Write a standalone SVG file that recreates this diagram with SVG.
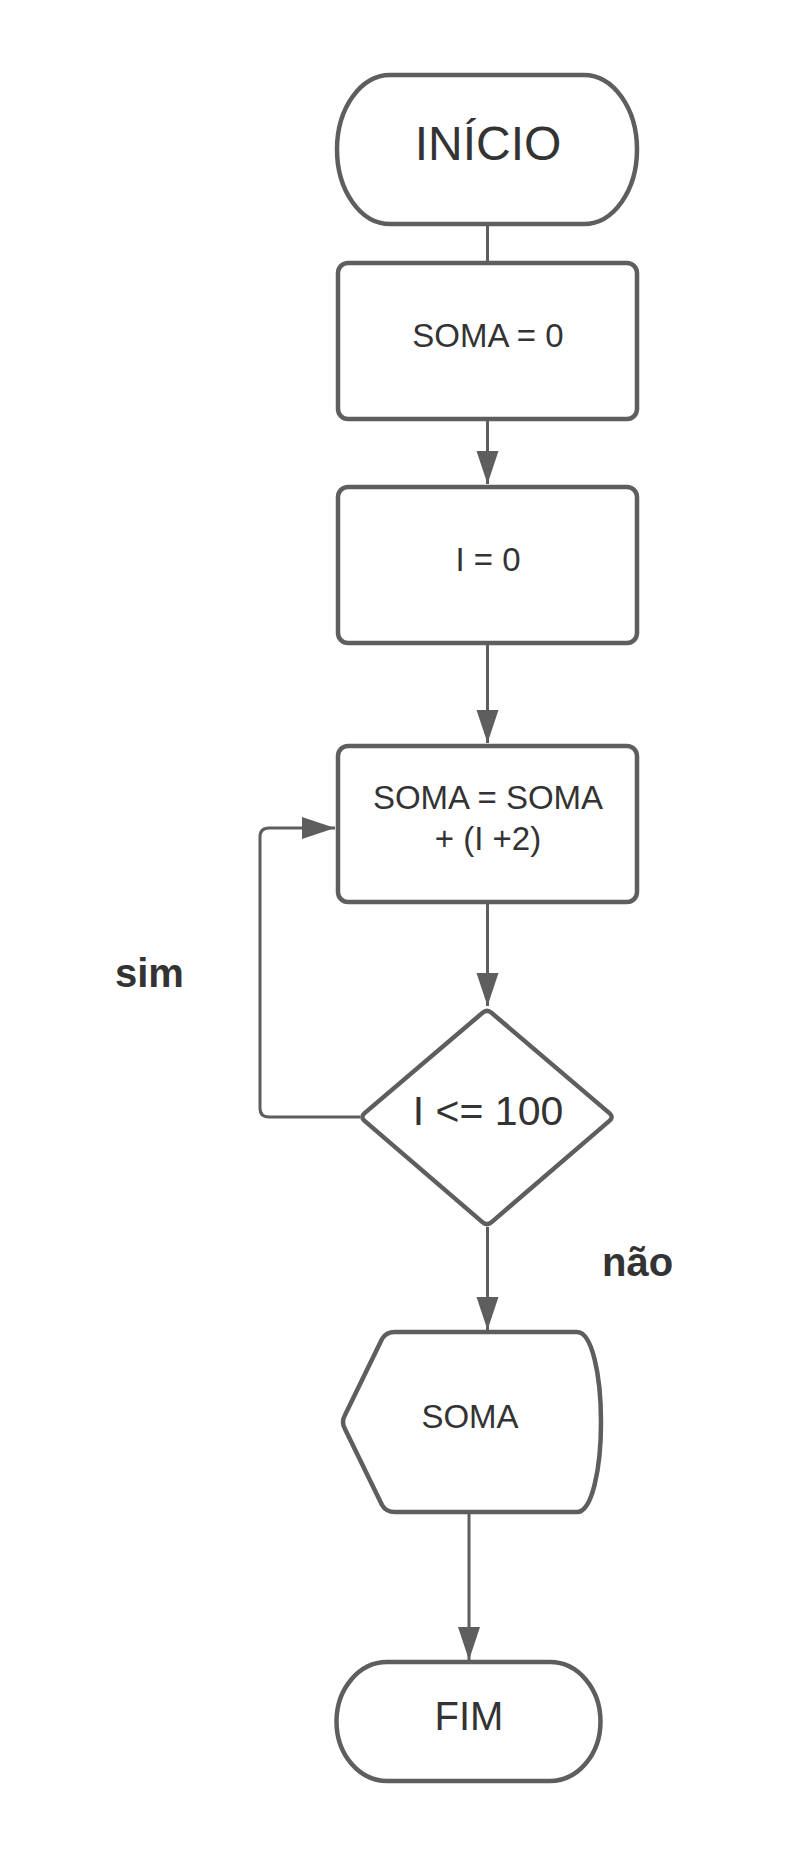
<svg xmlns="http://www.w3.org/2000/svg" width="788" height="1858" viewBox="0 0 788 1858">
<style>
.shape{fill:#ffffff;stroke:#5e5e5e;stroke-width:4.5;stroke-linejoin:round}
.conn{fill:none;stroke:#5e5e5e;stroke-width:3}
.t{font-family:"Liberation Sans",Arial,sans-serif;fill:#333333;text-anchor:middle}
.lbl{font-family:"Liberation Sans",Arial,sans-serif;fill:#333333;font-weight:bold;font-size:40px}
</style>
<defs>
<marker id="arr" markerUnits="userSpaceOnUse" markerWidth="34" markerHeight="24" refX="33" refY="11" orient="auto">
<path d="M0,0 L33,11 L0,22 Z" fill="#5e5e5e"/>
</marker>
</defs>
<rect width="788" height="1858" fill="#ffffff"/>
<g id="connectors">
<line class="conn" x1="487.5" y1="226" x2="487.5" y2="261"/>
<line class="conn" x1="487.5" y1="420" x2="487.5" y2="484" marker-end="url(#arr)"/>
<line class="conn" x1="487.5" y1="645" x2="487.5" y2="743" marker-end="url(#arr)"/>
<line class="conn" x1="487.5" y1="904" x2="487.5" y2="1006" marker-end="url(#arr)"/>
<line class="conn" x1="487.5" y1="1227" x2="487.5" y2="1330" marker-end="url(#arr)"/>
<line class="conn" x1="469" y1="1514" x2="469" y2="1660" marker-end="url(#arr)"/>
<path class="conn" d="M360,1117 H269 Q260,1117 260,1108 V837 Q260,828 269,828 H335" marker-end="url(#arr)"/>
</g>
<g id="inicio">
<path class="shape" d="M390,75 H584 A53,74.5 0 0 1 584,224 H390 A53,74.5 0 0 1 390,75 Z"/>
<text class="t" x="488" y="160" font-size="48">INÍCIO</text>
</g>
<g id="soma0">
<rect class="shape" x="338" y="263" width="299" height="156" rx="10"/>
<text class="t" x="488" y="347" font-size="33">SOMA = 0</text>
</g>
<g id="i0">
<rect class="shape" x="338" y="487" width="299" height="156" rx="10"/>
<text class="t" x="488" y="571" font-size="33">I = 0</text>
</g>
<g id="somaSoma">
<rect class="shape" x="338" y="746" width="299" height="156" rx="10"/>
<text class="t" x="488" y="809" font-size="33">SOMA = SOMA</text>
<text class="t" x="488" y="850" font-size="33">+ (I +2)</text>
</g>
<g id="decisao">
<path class="shape" d="M491.6,1012.9 L609.4,1113.1 Q614,1117 609.4,1120.9 L491.6,1222.1 Q487,1226 482.4,1222.1 L364.6,1120.9 Q360,1117 364.6,1113.1 L482.4,1012.9 Q487,1009 491.6,1012.9 Z"/>
<text class="t" x="488" y="1125" font-size="41">I &lt;= 100</text>
</g>
<g id="saida">
<path class="shape" d="M395,1332 H577 C592,1332 601,1375 601,1422 C601,1469 592,1512 577,1512 H395 Q386,1512 382,1505 L345,1429 Q341,1422 345,1415 L382,1339 Q386,1332 395,1332 Z"/>
<text class="t" x="470" y="1428" font-size="33">SOMA</text>
</g>
<g id="fim">
<path class="shape" d="M387,1662 H550 A50.5,59.5 0 0 1 550,1781 H387 A50.5,59.5 0 0 1 387,1662 Z"/>
<text class="t" x="469" y="1730" font-size="40">FIM</text>
</g>
<g id="labels">
<text class="lbl" x="115" y="987">sim</text>
<text class="lbl" x="602" y="1276">não</text>
</g>
</svg>
